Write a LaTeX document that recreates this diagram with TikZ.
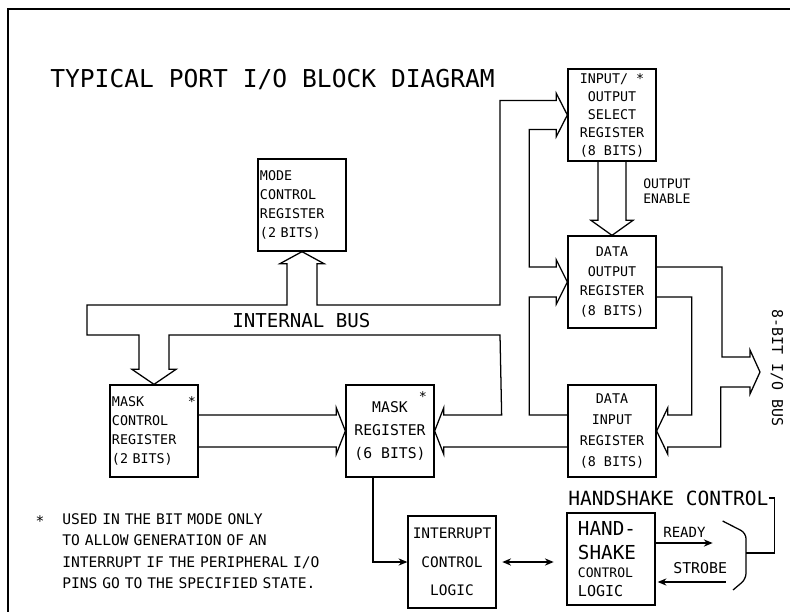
\documentclass[tikz,border=0pt]{standalone}
\usepackage{fontspec}
\setmonofont{DejaVu Sans Mono}
\usetikzlibrary{positioning, arrows.meta, calc}

\begin{document}
\begin{tikzpicture}[
  x=0.025cm, y=-0.025cm,
  every node/.style={font=\ttfamily},
  reg/.style={draw, line width=0.9pt, minimum width=2.2cm, minimum height=2.3cm,
              inner sep=0pt, align=center, font=\ttfamily\fontsize{9.5}{13.5}\selectfont},
  regl/.style={reg, align=left, text width=2.1cm},
  lbl/.style={inner sep=0pt, anchor=base west},
  bus/.style={line width=0.9pt},
  sig/.style={line width=0.9pt, -{Stealth[length=2.2mm, width=1.8mm]}},
]
  \useasboundingbox (0,0) rectangle (790,612);

  % Frame
  \draw[line width=1pt] (8,612) -- (8,9) -- (790,9);

  % Title
  \node[lbl, font=\ttfamily\fontsize{17.5}{20}\selectfont] (title) at (50,87)
    {TYPICAL PORT I/O BLOCK DIAGRAM};

  % Registers
  \node[reg, font=\ttfamily\fontsize{9.5}{12.8}\selectfont] (iosel) at (612,115)
    {INPUT/ *\\OUTPUT\\SELECT\\REGISTER\\(8 BITS)};
  \node[regl] (mode) at (302,205) {MODE\\CONTROL\\REGISTER\\(2 BITS)};
  \node[reg, font=\ttfamily\fontsize{9.5}{14.2}\selectfont] (dout) at (612,282)
    {DATA\\OUTPUT\\REGISTER\\(8 BITS)};
  \node[regl] (mctl) at (154,431) {MASK\hfill*\\CONTROL\\REGISTER\\(2 BITS)};
  \node[reg, font=\ttfamily\fontsize{10.5}{16.3}\selectfont] (mask) at (390,431)
    {MASK\\REGISTER\\(6 BITS)};
  \node[inner sep=0pt, font=\ttfamily\fontsize{9.5}{12}\selectfont] (maskstar) at (423,397) {*};
  \node[reg, font=\ttfamily\fontsize{9.5}{14.9}\selectfont] (din) at (612,431)
    {DATA\\INPUT\\REGISTER\\(8 BITS)};
  \node[reg, font=\ttfamily\fontsize{10.3}{20.3}\selectfont] (intr) at (452,562)
    {INTERRUPT\\CONTROL\\LOGIC};
  \node[regl, text width=1.65cm] (hs) at (611,559)
    {\fontsize{13.7}{17}\selectfont HAND-\\SHAKE\\%
     \fontsize{9.3}{12.7}\selectfont CONTROL\\\fontsize{10.7}{10.7}\selectfont LOGIC};

  % Labels
  \node[lbl, font=\ttfamily\fontsize{13.6}{16}\selectfont] (buslbl) at (232,327) {INTERNAL BUS};
  \node[lbl, text width=1.4cm, align=left, font=\ttfamily\fontsize{9.3}{10.7}\selectfont]
    (oelbl) at (643,188) {OUTPUT\\ENABLE};
  \node[lbl, font=\ttfamily\fontsize{13.9}{16}\selectfont] (hslbl) at (568,505) {HANDSHAKE CONTROL};
  \node[lbl, font=\ttfamily\fontsize{10}{12}\selectfont] (rdylbl) at (663,537) {READY};
  \node[lbl, font=\ttfamily\fontsize{10.6}{12}\selectfont] (stblbl) at (673,573) {STROBE};
  \node[rotate=-90, inner sep=0pt, font=\ttfamily\fontsize{10.6}{12}\selectfont] (extlbl)
    at (777,368) {8-BIT I/O BUS};
  \coordinate (ext) at (760,372);
  \coordinate (brk) at (746,553);

  % Note
  \node[inner sep=0pt, font=\ttfamily\fontsize{10.4}{12}\selectfont] (fnstar) at (40,521) {*};
  \node[lbl, text width=7.2cm, align=left, font=\ttfamily\fontsize{10.4}{15.3}\selectfont]
    (note) at (62,524) {USED IN THE BIT MODE ONLY\\TO ALLOW GENERATION OF AN\\
    INTERRUPT IF THE PERIPHERAL I/O\\PINS GO TO THE SPECIFIED STATE.};

  % Internal bus
  \draw[bus] (mode.south) -- ++(-22,12) -- ++(7,0) |- (87,305) -- (87,335)
    -| ($(mctl.north)+(-15,-15)$) -- ++(-7,0) -- (mctl.north);
  \draw[bus] (mctl.north) -- ++(22,-15) -- ++(-7,0) |- (500,335)
    -- ($(mask.east)+(67,-16)$) -- ++(-58,0) -- ++(0,-7) -- (mask.east);
  \draw[bus] (mode.south) -- ++(22,12) -- ++(-7,0) |- (500,305)
    |- ($(iosel.west)+(-11,-14.5)$) -- ++(0,-7) -- (iosel.west);
  \draw[bus] (iosel.west) -- ++(-11,21.5) -- ++(0,-7)
    -| ($(dout.west)+(-38,-15)$) -- ++(27,0) -- ++(0,-7) -- (dout.west);
  \draw[bus] (dout.west) -- ++(-11,22) -- ++(0,-7)
    -| ($(din.west)+(-38,-16)$) -- ($(din.west)+(0,-16)$);
  \draw[bus] ($(din.west)+(0,16)$) -- ($(mask.east)+(9,16)$) -- ++(0,7) -- (mask.east);

  % Mask control to mask
  \draw[bus] ($(mctl.east)+(0,-16)$) -- ($(mask.west)+(-9,-16)$) -- ++(0,-7) -- (mask.west);
  \draw[bus] ($(mctl.east)+(0,16)$) -- ($(mask.west)+(-9,16)$) -- ++(0,7) -- (mask.west);

  % Output enable
  \draw[bus] ($(iosel.south)+(-14,0)$) -- ($(dout.north)+(-14,-15)$) -- ++(-7,0) -- (dout.north);
  \draw[bus] ($(iosel.south)+(14,0)$) -- ($(dout.north)+(14,-15)$) -- ++(7,0) -- (dout.north);

  % Port side
  \draw[bus] ($(dout.east)+(0,-15)$) -| ($(ext)+(-38,-15)$) -- ++(28,0) -- ++(0,-7) -- (ext);
  \draw[bus] (ext) -- ++(-10,22) -- ++(0,-7) -| ($(din.east)+(64,16)$)
    -- ($(din.east)+(11,16)$) -- ++(0,7) -- (din.east);
  \draw[bus] ($(dout.east)+(0,15)$) -| ($(din.east)+(35,-16)$)
    -- ($(din.east)+(11,-16)$) -- ++(0,-7) -- (din.east);

  % Interrupt and handshake
  \draw[sig] ($(mask.south)+(-17,0)$) |- (intr.west);
  \draw[sig, {Stealth[length=2.2mm, width=1.8mm]}-{Stealth[length=2.2mm, width=1.8mm]},
    shorten <=4pt, shorten >=9pt] (intr.east) -- (intr.east -| hs.west);
  \draw[sig] ($(hs.east)+(0,-16)$) -- ++(57,0);
  \draw[sig] ($(hs.east)+(70,23)$) -- ($(hs.east)+(2,23)$);
  \draw[bus, rounded corners=4pt] ($(hs.east)+(67,-38)$) -- ($(brk)+(0,-20)$)
    -- ($(brk)+(0,26)$) -- ($(brk)+(-13,37)$);
  \draw[bus] (hslbl.east) -- ++(6,0) |- (brk);
\end{tikzpicture}
\end{document}
